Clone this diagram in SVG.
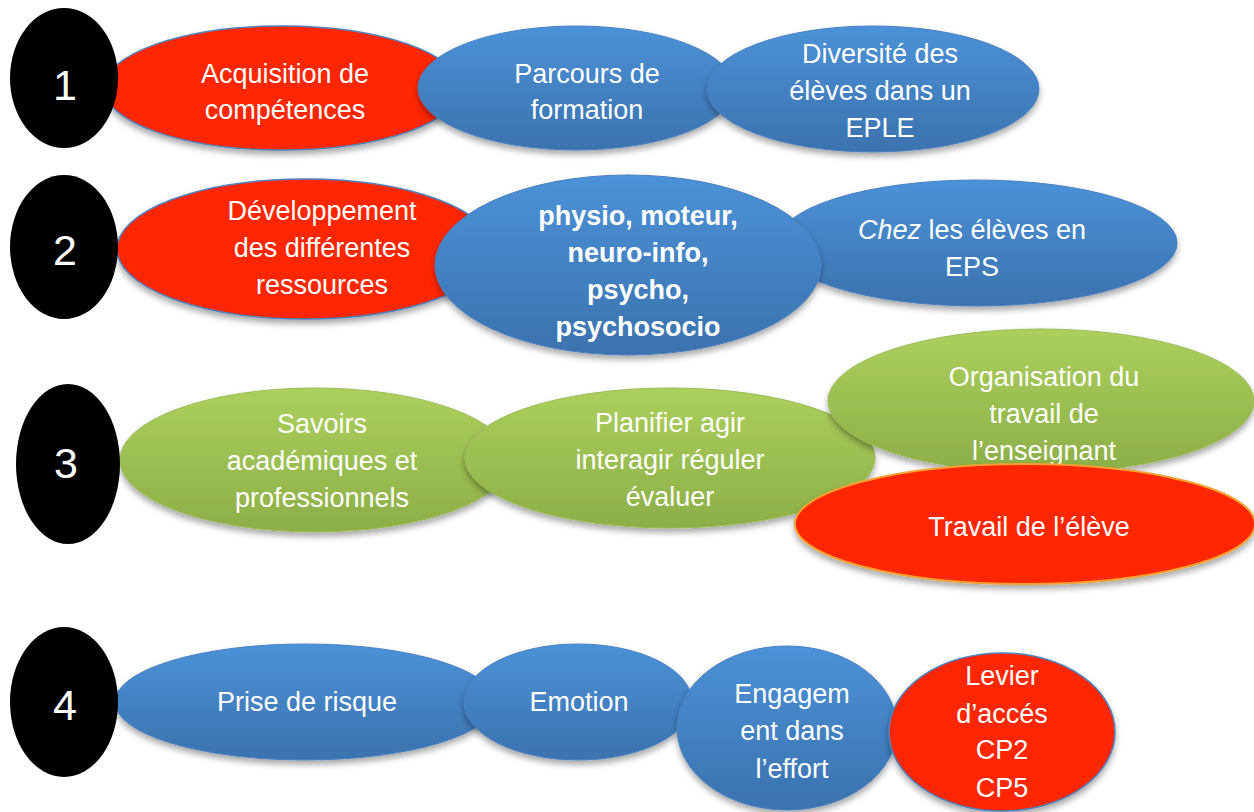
<svg xmlns="http://www.w3.org/2000/svg" width="1254" height="812" viewBox="0 0 1254 812">
<defs>
<linearGradient id="gb" x1="0" y1="0" x2="0" y2="1"><stop offset="0" stop-color="#4b92d8"/><stop offset="1" stop-color="#3b72ae"/></linearGradient>
<linearGradient id="gg" x1="0" y1="0" x2="0" y2="1"><stop offset="0" stop-color="#acd05c"/><stop offset="1" stop-color="#8cae48"/></linearGradient>
<filter id="sh" x="-10%" y="-10%" width="120%" height="130%"><feDropShadow dx="0" dy="4" stdDeviation="3" flood-color="#000" flood-opacity="0.35"/></filter>
</defs>
<style>
.blk{fill:#000}
.red{fill:#ff2600;stroke:#4f81bd;stroke-width:1.5;filter:url(#sh)}
.redo{fill:#ff2600;stroke:#f5a030;stroke-width:2;filter:url(#sh)}
.blu{fill:url(#gb);stroke:#4a7fc0;stroke-width:1;filter:url(#sh)}
.grn{fill:url(#gg);stroke:#9bbb59;stroke-width:1;filter:url(#sh)}
text{font-family:"Liberation Sans",Arial,sans-serif;font-size:27px;fill:#fff;text-anchor:middle}
.num{font-size:43px}
.b{font-weight:bold;font-size:27px}
</style>
<rect width="1254" height="812" fill="#fff"/>
<g id="connectors"/>
<!-- Row 1 -->
<g id="n1-red"><ellipse class="red" cx="282" cy="88" rx="178" ry="62"/><text x="285" y="83">Acquisition de</text><text x="285" y="119">compétences</text></g>
<g id="n1"><ellipse class="blk" cx="64" cy="78" rx="54" ry="70"/><text class="num" x="65" y="100">1</text></g>
<g id="n1-parcours"><ellipse class="blu" cx="576" cy="88" rx="158" ry="62"/><text x="587" y="83">Parcours de</text><text x="587" y="119">formation</text></g>
<g id="n1-diversite"><ellipse class="blu" cx="873" cy="89" rx="166" ry="63"/><text x="880" y="63">Diversité des</text><text x="880" y="100">élèves dans un</text><text x="880" y="137">EPLE</text></g>
<!-- Row 2 -->
<g id="n2-red"><ellipse class="red" cx="305" cy="249" rx="188" ry="70"/><text x="322" y="220">Développement</text><text x="322" y="257">des différentes</text><text x="322" y="294">ressources</text></g>
<g id="n2"><ellipse class="blk" cx="64" cy="247" rx="54" ry="72"/><text class="num" x="65" y="265">2</text></g>
<g id="n2-chez"><ellipse class="blu" cx="977" cy="243" rx="200" ry="63"/><text x="972" y="239"><tspan font-style="italic">Chez</tspan> les élèves en</text><text x="972" y="276">EPS</text></g>
<g id="n2-physio"><ellipse class="blu" cx="628" cy="265" rx="193" ry="90"/><text class="b" x="638" y="225">physio, moteur,</text><text class="b" x="638" y="262">neuro-info,</text><text class="b" x="638" y="299">psycho,</text><text class="b" x="638" y="336">psychosocio</text></g>
<!-- Row 3 -->
<g id="n3-savoirs"><ellipse class="grn" cx="315" cy="460" rx="195" ry="72"/><text x="322" y="433">Savoirs</text><text x="322" y="470">académiques et</text><text x="322" y="507">professionnels</text></g>
<g id="n3"><ellipse class="blk" cx="68" cy="464" rx="52" ry="80"/><text class="num" x="66" y="478">3</text></g>
<g id="n3-planifier"><ellipse class="grn" cx="670" cy="458" rx="205" ry="70"/><text x="670" y="432">Planifier agir</text><text x="670" y="469">interagir réguler</text><text x="670" y="506">évaluer</text></g>
<g id="n3-organisation"><ellipse class="grn" cx="1041" cy="401" rx="213" ry="72"/><text x="1044" y="386">Organisation du</text><text x="1044" y="423">travail de</text><text x="1044" y="460">l’enseignant</text></g>
<g id="n3-travail"><ellipse class="redo" cx="1025" cy="524" rx="230" ry="60"/><text x="1029" y="536">Travail de l’élève</text></g>
<!-- Row 4 -->
<g id="n4-risque"><ellipse class="blu" cx="305" cy="702" rx="190" ry="58"/><text x="307" y="711">Prise de risque</text></g>
<g id="n4"><ellipse class="blk" cx="64" cy="702" rx="54" ry="75"/><text class="num" x="65" y="720">4</text></g>
<g id="n4-emotion"><ellipse class="blu" cx="578" cy="702" rx="114" ry="58"/><text x="579" y="711">Emotion</text></g>
<g id="n4-engagement"><ellipse class="blu" cx="787" cy="728" rx="110" ry="82"/><text x="792" y="703">Engagem</text><text x="792" y="740">ent dans</text><text x="792" y="778">l’effort</text></g>
<g id="n4-levier"><ellipse class="red" cx="1002" cy="732" rx="113" ry="79"/><text x="1002" y="685">Levier</text><text x="1002" y="723">d’accés</text><text x="1002" y="759">CP2</text><text x="1002" y="797">CP5</text></g>
</svg>
